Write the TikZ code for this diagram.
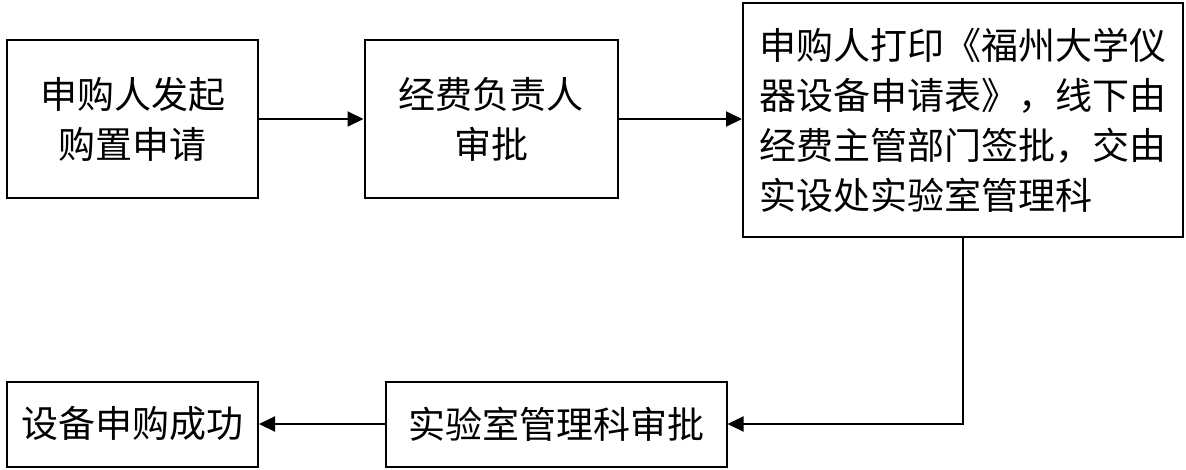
\documentclass[tikz,border=0pt]{standalone}
\usepackage{fontspec}
\newfontfamily\cjkfont{Noto Sans CJK SC}
\usetikzlibrary{arrows.meta, positioning, calc}
\definecolor{flowBlack}{HTML}{000000}

\begin{document}
\begin{tikzpicture}[
    x=1pt, y=-1pt,
    procbox/.style={
        draw=flowBlack, line width=2pt, minimum height=158pt, minimum width=251pt,
        align=center, font=\cjkfont\fontsize{37}{50}\selectfont, inner sep=0pt
    },
    arrow/.style={-{Triangle[length=16pt, width=15pt]}, line width=2pt, draw=flowBlack}
]
\useasboundingbox (0,0) rectangle (1186,469);

% Row 1: apply -> fund approval -> print form
\node[procbox] (apply) at (132.5,119) {申购人发起\\购置申请};
\node[procbox, minimum width=253pt] (fundok) at (491,119) {经费负责人\\审批};
\node[procbox, minimum width=440pt, minimum height=234pt, align=left] (printform) at (963,120) {申购人打印《福州大学仪\\器设备申请表》，线下由\\经费主管部门签批，交由\\实设处实验室管理科\hspace{37pt}\hspace{37pt}};

% Row 2: lab approval -> done
\node[procbox, minimum width=341pt, minimum height=85pt] (labok) at (556,424) {实验室管理科审批};
\node[procbox, minimum height=85pt] (done) at (132.5,424) {设备申购成功};

% Arrows
\draw[arrow] (apply) -- (fundok);
\draw[arrow] (fundok.east) -- (fundok.east -| printform.west);
\draw[arrow] (printform.south) |- (labok.east);
\draw[arrow] (labok) -- (done);

\end{tikzpicture}
\end{document}
